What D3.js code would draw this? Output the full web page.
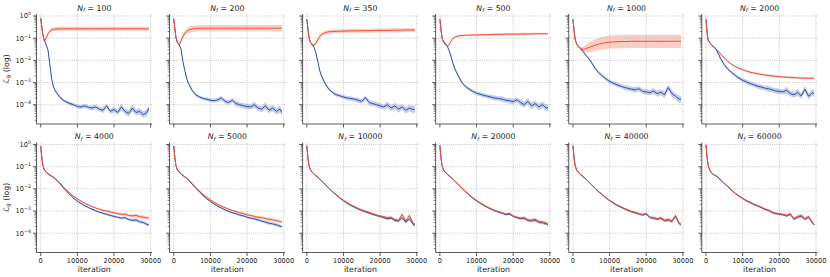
<!DOCTYPE html>
<html>
<head>
<meta charset="utf-8">
<script src="https://cdn.jsdelivr.net/npm/d3@7"></script>
<style>
  body { margin: 0; background: #fff; }
  svg { display: block; }
  text { font-family: "DejaVu Sans", sans-serif; fill: #222; }
</style>
</head>
<body>
<svg id="chart" width="830" height="277"></svg>
<script>
const iterations = [0, 300, 600, 1000, 1500, 2000, 2500, 3000, 3500, 4000, 5000, 6000,
  7000, 8000, 9000, 10000, 11000, 12000, 13000, 14000, 15000, 16000, 17000, 18000,
  19000, 20000, 21000, 22000, 23000, 24000, 25000, 26000, 27000, 28000, 29000, 29500];

const nfValues = [100, 200, 350, 500, 1000, 2000, 4000, 5000, 10000, 20000, 40000, 60000];

const xTicks = [0, 10000, 20000, 30000];

// log10 of the loss, one row per panel
const blueLog = [
  [-0.1,-0.5,-0.85,-1.1,-1.3,-1.55,-2.2,-2.85,-3.2,-3.38,-3.62,-3.78,
   -3.88,-3.95,-4.0,-4.08,-4.1,-4.05,-4.12,-4.15,-4.1,-4.2,-4.25,-4.05,
   -4.3,-4.22,-4.35,-4.1,-4.3,-4.4,-4.15,-4.35,-4.3,-4.45,-4.35,-4.15],
  [-0.13,-0.55,-0.95,-1.2,-1.3,-1.5,-2.05,-2.45,-2.8,-3.03,-3.35,-3.55,
   -3.65,-3.72,-3.75,-3.8,-3.82,-3.78,-3.7,-3.85,-3.9,-3.8,-3.95,-4.0,
   -4.05,-4.08,-4.1,-4.0,-4.15,-4.2,-4.05,-4.25,-4.15,-4.3,-4.2,-4.35],
  [-0.15,-0.55,-0.95,-1.2,-1.3,-1.42,-1.68,-2.05,-2.45,-2.7,-3.05,-3.3,
   -3.45,-3.55,-3.6,-3.65,-3.7,-3.72,-3.75,-3.8,-3.85,-3.68,-3.9,-3.95,
   -4.0,-4.05,-4.1,-4.0,-4.15,-4.05,-4.2,-4.1,-4.25,-4.15,-4.22,-4.2],
  [-0.15,-0.6,-1.0,-1.15,-1.25,-1.35,-1.55,-1.8,-2.1,-2.35,-2.7,-3.0,
   -3.18,-3.3,-3.4,-3.48,-3.53,-3.58,-3.62,-3.66,-3.7,-3.72,-3.75,-3.8,
   -3.82,-3.86,-3.78,-3.9,-4.0,-3.85,-4.05,-3.95,-4.1,-4.0,-4.15,-4.12],
  [-0.15,-0.65,-1.05,-1.25,-1.38,-1.46,-1.55,-1.65,-1.76,-1.86,-2.08,-2.35,
   -2.55,-2.7,-2.83,-2.95,-3.03,-3.1,-3.16,-3.22,-3.26,-3.3,-3.33,-3.28,
   -3.4,-3.42,-3.46,-3.38,-3.5,-3.44,-3.55,-3.22,-3.5,-3.62,-3.75,-3.76],
  [-0.15,-0.75,-1.1,-1.2,-1.3,-1.38,-1.45,-1.58,-1.75,-1.92,-2.2,-2.4,
   -2.55,-2.68,-2.8,-2.9,-2.97,-3.04,-3.1,-3.16,-3.2,-3.25,-3.28,-3.32,
   -3.38,-3.4,-3.42,-3.35,-3.5,-3.55,-3.45,-3.6,-3.3,-3.62,-3.45,-3.5],
  [-0.07,-0.6,-0.95,-1.15,-1.25,-1.32,-1.38,-1.43,-1.48,-1.55,-1.72,-1.92,
   -2.1,-2.27,-2.42,-2.55,-2.66,-2.76,-2.84,-2.92,-2.99,-3.05,-3.1,-3.15,
   -3.2,-3.24,-3.28,-3.32,-3.3,-3.38,-3.42,-3.4,-3.48,-3.52,-3.6,-3.63],
  [-0.07,-0.6,-0.95,-1.15,-1.25,-1.33,-1.4,-1.46,-1.52,-1.6,-1.78,-1.96,
   -2.14,-2.3,-2.45,-2.57,-2.68,-2.78,-2.86,-2.95,-3.02,-3.08,-3.12,-3.18,
   -3.22,-3.28,-3.32,-3.35,-3.4,-3.45,-3.5,-3.55,-3.58,-3.62,-3.68,-3.7],
  [-0.05,-0.6,-0.95,-1.15,-1.26,-1.34,-1.41,-1.48,-1.55,-1.63,-1.8,-1.97,
   -2.13,-2.28,-2.42,-2.54,-2.65,-2.75,-2.83,-2.91,-2.98,-3.04,-3.1,-3.15,
   -3.2,-3.25,-3.3,-3.35,-3.32,-3.42,-3.45,-3.3,-3.5,-3.35,-3.6,-3.65],
  [-0.05,-0.6,-0.95,-1.15,-1.26,-1.34,-1.41,-1.48,-1.55,-1.63,-1.8,-1.97,
   -2.13,-2.28,-2.42,-2.54,-2.65,-2.75,-2.84,-2.92,-2.99,-3.05,-3.1,-3.16,
   -3.14,-3.24,-3.3,-3.34,-3.33,-3.42,-3.44,-3.41,-3.5,-3.52,-3.58,-3.6],
  [-0.05,-0.6,-0.95,-1.15,-1.26,-1.34,-1.41,-1.48,-1.55,-1.63,-1.8,-1.97,
   -2.13,-2.27,-2.41,-2.53,-2.64,-2.74,-2.82,-2.9,-2.97,-3.04,-3.08,-3.14,
   -3.18,-3.13,-3.3,-3.32,-3.37,-3.33,-3.44,-3.4,-3.47,-3.25,-3.57,-3.62],
  [-0.02,-0.6,-0.95,-1.15,-1.28,-1.35,-1.4,-1.45,-1.52,-1.6,-1.76,-1.91,
   -2.06,-2.21,-2.33,-2.44,-2.54,-2.62,-2.7,-2.77,-2.84,-2.92,-2.97,-3.07,
   -3.12,-3.14,-3.17,-3.22,-3.15,-3.37,-3.28,-3.23,-3.37,-3.28,-3.52,-3.62]
];

const redLog = [
  [-0.1,-0.5,-0.85,-1.15,-1.0,-0.8,-0.68,-0.62,-0.6,-0.59,-0.58,-0.58,
   -0.58,-0.58,-0.58,-0.58,-0.58,-0.58,-0.58,-0.58,-0.58,-0.58,-0.58,-0.58,
   -0.58,-0.58,-0.58,-0.58,-0.58,-0.58,-0.58,-0.58,-0.58,-0.58,-0.58,-0.58],
  [-0.13,-0.6,-1.0,-1.2,-1.28,-1.12,-0.92,-0.78,-0.7,-0.64,-0.58,-0.56,
   -0.55,-0.55,-0.55,-0.55,-0.55,-0.55,-0.55,-0.55,-0.55,-0.55,-0.55,-0.55,
   -0.55,-0.55,-0.55,-0.55,-0.55,-0.55,-0.55,-0.55,-0.55,-0.55,-0.55,-0.55],
  [-0.15,-0.6,-1.0,-1.2,-1.3,-1.31,-1.22,-1.06,-0.93,-0.84,-0.75,-0.71,
   -0.7,-0.69,-0.69,-0.68,-0.68,-0.67,-0.67,-0.67,-0.66,-0.66,-0.66,-0.66,
   -0.65,-0.65,-0.65,-0.65,-0.64,-0.64,-0.64,-0.64,-0.63,-0.63,-0.63,-0.63],
  [-0.15,-0.6,-1.0,-1.2,-1.3,-1.36,-1.3,-1.15,-1.02,-0.96,-0.9,-0.88,
   -0.87,-0.86,-0.86,-0.85,-0.85,-0.84,-0.84,-0.84,-0.83,-0.83,-0.83,-0.82,
   -0.82,-0.82,-0.82,-0.81,-0.81,-0.81,-0.81,-0.8,-0.8,-0.8,-0.8,-0.8],
  [-0.15,-0.65,-1.05,-1.25,-1.38,-1.45,-1.5,-1.5,-1.47,-1.44,-1.38,-1.32,
   -1.27,-1.23,-1.2,-1.18,-1.17,-1.16,-1.15,-1.15,-1.15,-1.14,-1.14,-1.14,
   -1.14,-1.14,-1.14,-1.14,-1.14,-1.14,-1.14,-1.14,-1.14,-1.14,-1.14,-1.14],
  [-0.15,-0.75,-1.1,-1.2,-1.3,-1.38,-1.45,-1.53,-1.62,-1.72,-1.9,-2.05,
   -2.18,-2.28,-2.36,-2.42,-2.48,-2.53,-2.57,-2.6,-2.63,-2.66,-2.68,-2.7,
   -2.72,-2.74,-2.75,-2.76,-2.77,-2.78,-2.79,-2.8,-2.8,-2.81,-2.8,-2.81],
  [-0.07,-0.6,-0.95,-1.15,-1.25,-1.32,-1.38,-1.43,-1.48,-1.55,-1.7,-1.88,
   -2.05,-2.2,-2.34,-2.45,-2.55,-2.64,-2.72,-2.8,-2.86,-2.92,-2.97,-3.0,
   -3.04,-3.08,-3.12,-3.15,-3.14,-3.2,-3.22,-3.2,-3.25,-3.28,-3.3,-3.32],
  [-0.07,-0.6,-0.95,-1.15,-1.25,-1.33,-1.4,-1.46,-1.52,-1.6,-1.76,-1.93,
   -2.1,-2.25,-2.38,-2.5,-2.6,-2.7,-2.78,-2.85,-2.92,-2.98,-3.02,-3.08,
   -3.12,-3.17,-3.2,-3.24,-3.28,-3.3,-3.34,-3.37,-3.4,-3.43,-3.47,-3.5],
  [-0.05,-0.6,-0.95,-1.15,-1.26,-1.34,-1.41,-1.48,-1.55,-1.63,-1.8,-1.96,
   -2.12,-2.26,-2.4,-2.52,-2.62,-2.72,-2.8,-2.88,-2.95,-3.0,-3.06,-3.12,
   -3.18,-3.22,-3.25,-3.3,-3.28,-3.38,-3.42,-3.15,-3.45,-3.2,-3.55,-3.6],
  [-0.05,-0.6,-0.95,-1.15,-1.26,-1.34,-1.41,-1.48,-1.55,-1.63,-1.8,-1.96,
   -2.12,-2.26,-2.4,-2.52,-2.63,-2.73,-2.82,-2.9,-2.97,-3.03,-3.08,-3.14,
   -3.1,-3.22,-3.28,-3.32,-3.3,-3.4,-3.42,-3.38,-3.48,-3.5,-3.55,-3.58],
  [-0.05,-0.6,-0.95,-1.15,-1.26,-1.34,-1.41,-1.48,-1.55,-1.63,-1.8,-1.96,
   -2.12,-2.26,-2.4,-2.52,-2.62,-2.72,-2.8,-2.88,-2.95,-3.02,-3.06,-3.12,
   -3.16,-3.1,-3.28,-3.3,-3.35,-3.3,-3.42,-3.38,-3.45,-3.2,-3.55,-3.6],
  [-0.02,-0.6,-0.95,-1.15,-1.28,-1.35,-1.4,-1.45,-1.52,-1.6,-1.75,-1.9,
   -2.05,-2.2,-2.32,-2.42,-2.52,-2.6,-2.68,-2.75,-2.82,-2.9,-2.95,-3.05,
   -3.1,-3.12,-3.15,-3.2,-3.12,-3.35,-3.25,-3.2,-3.35,-3.25,-3.5,-3.6]
];

// half-width of the shaded band (log10 units)
const bandSmall = [0.01,0.02,0.03,0.03,0.03,0.03,0.03,0.03,0.03,0.03,0.03,0.03,
  0.03,0.03,0.03,0.03,0.04,0.04,0.04,0.04,0.04,0.04,0.05,0.05,
  0.05,0.05,0.05,0.06,0.06,0.06,0.07,0.08,0.07,0.08,0.07,0.06];
const bandNoisy = [0.01,0.02,0.03,0.03,0.04,0.05,0.05,0.05,0.06,0.06,0.07,0.07,
  0.07,0.08,0.08,0.09,0.09,0.1,0.09,0.11,0.11,0.1,0.13,0.11,
  0.12,0.13,0.11,0.15,0.13,0.14,0.16,0.13,0.15,0.14,0.16,0.15];
const bandPlateau = [0.01,0.02,0.03,0.04,0.05,0.06,0.07,0.08,0.08,0.09,0.09,0.09,
  0.09,0.09,0.09,0.09,0.09,0.09,0.09,0.09,0.09,0.09,0.09,0.09,
  0.09,0.09,0.09,0.09,0.09,0.09,0.09,0.09,0.09,0.09,0.09,0.09];
const bandPlateauWide = [0.01,0.02,0.03,0.04,0.06,0.08,0.1,0.12,0.13,0.14,0.14,0.14,
  0.14,0.14,0.14,0.14,0.14,0.14,0.14,0.14,0.14,0.14,0.14,0.14,
  0.14,0.14,0.14,0.14,0.14,0.14,0.14,0.14,0.14,0.14,0.14,0.14];
const bandThin = [0.01,0.02,0.03,0.03,0.04,0.04,0.04,0.04,0.04,0.04,0.04,0.04,
  0.04,0.04,0.04,0.04,0.04,0.04,0.04,0.05,0.05,0.05,0.05,0.05,
  0.05,0.05,0.05,0.05,0.05,0.05,0.05,0.05,0.05,0.05,0.05,0.05];
const bandWide = [0.01,0.02,0.03,0.03,0.04,0.06,0.1,0.14,0.17,0.2,0.24,0.26,
  0.28,0.29,0.3,0.3,0.3,0.3,0.3,0.3,0.3,0.3,0.3,0.3,
  0.3,0.3,0.3,0.3,0.3,0.3,0.3,0.3,0.3,0.3,0.3,0.3];

const blueBands = [bandNoisy, bandNoisy, bandNoisy, bandNoisy, bandNoisy, bandNoisy,
  bandSmall, bandSmall, bandSmall, bandSmall, bandSmall, bandSmall];
const redBands = [bandPlateau, bandPlateauWide, bandPlateau, bandThin, bandWide, bandThin,
  bandSmall, bandSmall, bandSmall, bandSmall, bandSmall, bandSmall];

const blueColor = "#2f4fb0";
const redColor = "#f0502f";

const svg = d3.select("#chart");

const colLeft = 36.5, colStep = 133.06, axW = 115.5, axH = 110;
const rowTop = [14, 142.5];

const x = d3.scaleLinear().domain([-1150, 30370]).range([0, axW]);
const y = d3.scaleLog().domain([1.35e-5, 1.23]).range([axH, 0]);

const line = d3.line()
  .x(d => x(d.it))
  .y(d => y(Math.pow(10, d.v)));

const area = d3.area()
  .x(d => x(d.it))
  .y0(d => y(Math.pow(10, d.v - d.s)))
  .y1(d => y(Math.pow(10, d.v + d.s)));

const supDigits = { "0": "0", "-1": "−1", "-2": "−2", "-3": "−3", "-4": "−4" };

nfValues.forEach((nf, k) => {
  const row = Math.floor(k / 6), col = k % 6;
  const g = svg.append("g")
    .attr("transform", `translate(${colLeft + col * colStep},${rowTop[row]})`);

  const blue = iterations.map((it, i) => ({ it, v: blueLog[k][i], s: blueBands[k][i] }));
  const red = iterations.map((it, i) => ({ it, v: redLog[k][i], s: redBands[k][i] }));

  // bands
  g.append("path").datum(blue).attr("d", area)
    .attr("fill", blueColor).attr("fill-opacity", 0.28);
  g.append("path").datum(red).attr("fill", redColor).attr("d", area)
    .attr("fill-opacity", 0.28);

  // grid
  const yTicks = y.ticks();
  const yMajor = yTicks.filter(t => Math.abs(Math.log10(t) - Math.round(Math.log10(t))) < 1e-6);
  g.append("g").selectAll("line").data(yMajor).join("line")
    .attr("x1", 0).attr("x2", axW)
    .attr("y1", d => y(d)).attr("y2", d => y(d))
    .attr("stroke", "#b0b0b0").attr("stroke-width", 0.7).attr("stroke-dasharray", "1,1.2");
  g.append("g").selectAll("line").data(xTicks).join("line")
    .attr("x1", d => x(d)).attr("x2", d => x(d))
    .attr("y1", 0).attr("y2", axH)
    .attr("stroke", "#b0b0b0").attr("stroke-width", 0.7).attr("stroke-dasharray", "1,1.2");

  // mean curves
  g.append("path").datum(blue).attr("d", line)
    .attr("fill", "none").attr("stroke", blueColor).attr("stroke-width", 1);
  g.append("path").datum(red).attr("d", line)
    .attr("fill", "none").attr("stroke", redColor).attr("stroke-width", 1);

  // spines
  g.append("line").attr("x1", 0).attr("x2", 0).attr("y1", 0).attr("y2", axH)
    .attr("stroke", "#333").attr("stroke-width", 0.8);
  g.append("line").attr("x1", 0).attr("x2", axW).attr("y1", axH).attr("y2", axH)
    .attr("stroke", "#333").attr("stroke-width", 0.8);

  // y ticks (major + minor)
  g.append("g").selectAll("line").data(yTicks).join("line")
    .attr("x1", d => yMajor.includes(d) ? -3.5 : -2).attr("x2", 0)
    .attr("y1", d => y(d)).attr("y2", d => y(d))
    .attr("stroke", "#333").attr("stroke-width", d => yMajor.includes(d) ? 0.8 : 0.6);

  // x ticks
  g.append("g").selectAll("line").data(xTicks).join("line")
    .attr("x1", d => x(d)).attr("x2", d => x(d))
    .attr("y1", axH).attr("y2", axH + 3.5)
    .attr("stroke", "#333").attr("stroke-width", 0.8);

  if (col === 0) {
    yMajor.forEach(t => {
      const e = String(Math.round(Math.log10(t)));
      const txt = g.append("text")
        .attr("x", -5.5).attr("y", y(t) + 2.4)
        .attr("text-anchor", "end").attr("font-size", 6.6);
      txt.append("tspan").text("10");
      txt.append("tspan").attr("dy", -3).attr("font-size", 4.8).text(supDigits[e]);
    });
    const yl = g.append("text")
      .attr("transform", `translate(${-27.5},${axH / 2}) rotate(-90)`)
      .attr("text-anchor", "middle").attr("font-size", 7.8);
    yl.append("tspan").attr("font-style", "italic").text("ℒ");
    yl.append("tspan").attr("font-size", 5.6).attr("dy", 1.6).text("θ");
    yl.append("tspan").attr("dy", -1.6).text(" (log)");
  }

  if (row === 1) {
    g.append("g").selectAll("text").data(xTicks).join("text")
      .attr("x", d => x(d)).attr("y", axH + 10)
      .attr("text-anchor", "middle").attr("font-size", 6.6)
      .text(d => String(d));
    g.append("text")
      .attr("x", axW / 2).attr("y", axH + 19.5)
      .attr("text-anchor", "middle").attr("font-size", 7.8)
      .text("iteration");
  }

  // title
  const title = g.append("text")
    .attr("x", axW / 2).attr("y", -3.5)
    .attr("text-anchor", "middle").attr("font-size", 7.8);
  title.append("tspan").attr("font-style", "italic").text("N");
  title.append("tspan").attr("font-style", "italic").attr("font-size", 5.6).attr("dy", 1.5).text("f");
  title.append("tspan").attr("dy", -1.5).text(" = " + nf);
});
</script>
</body>
</html>
